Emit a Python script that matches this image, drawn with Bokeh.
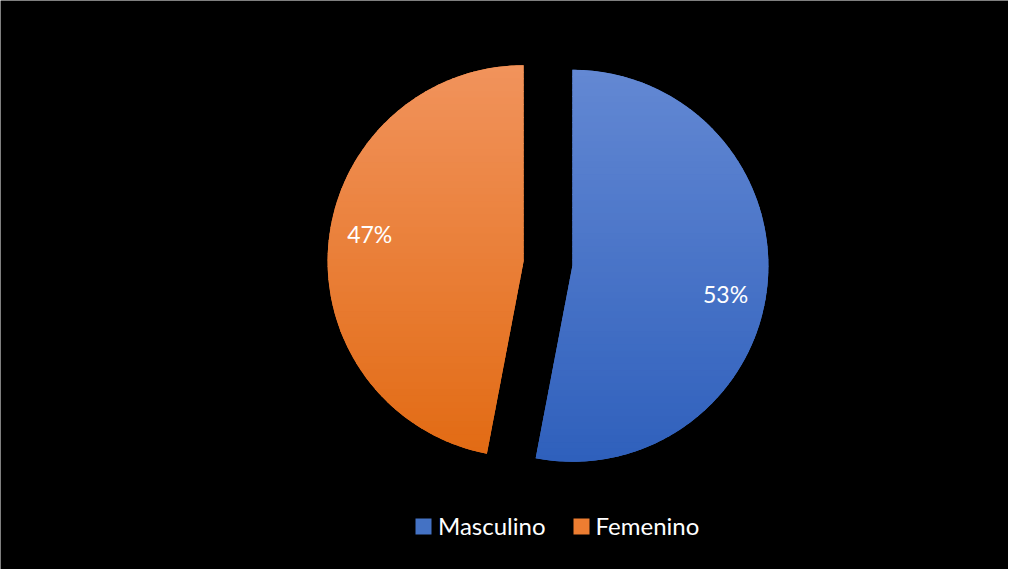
import numpy as np
from bokeh.plotting import figure
from bokeh.models import Range1d, Legend, LegendItem, ColumnDataSource
from bokeh.core.properties import value
from bokeh.embed import file_html
from bokeh.resources import INLINE

# ---- data ----
categories = ["Masculino", "Femenino"]
shares = [53, 47]
labels = ["53%", "47%"]
base_colors = ["#4472c4", "#ed7d31"]
top_colors = ["#6388d3", "#f1935c"]
bottom_colors = ["#2f60bc", "#e26b14"]

# ---- layout ----
W, H = 1008, 569
CX, CY = 547.5, 306.0     # pie centre (plot px, y up)
R = 196.0
EXPLODE = 24.5
FONT = "Lato"
FS_LEG = "24px"
FS_LAB = "23px"
label_dist = 156.0
label_turn = [-5.6, -4.0]  # deg offset from bisector for label placement

p = figure(width=W, height=H, output_backend="svg", toolbar_location=None,
           x_range=Range1d(0, W), y_range=Range1d(0, H),
           background_fill_color="black", border_fill_color="black",
           min_border=0, outline_line_color=None)
p.axis.visible = False
p.grid.visible = False


def hex2rgb(h):
    h = h.lstrip("#")
    return np.array([int(h[i:i + 2], 16) for i in (0, 2, 4)], dtype=float)


def rgb2hex(c):
    return "#%02x%02x%02x" % tuple(int(round(v)) for v in c)


def clip(poly, y, keep_above):
    out = []
    n = len(poly)
    for i in range(n):
        P = poly[i]
        Q = poly[(i + 1) % n]
        inP = P[1] >= y if keep_above else P[1] <= y
        inQ = Q[1] >= y if keep_above else Q[1] <= y
        if inQ:
            if not inP:
                t = (y - P[1]) / (Q[1] - P[1])
                out.append((P[0] + t * (Q[0] - P[0]), y))
            out.append(Q)
        elif inP:
            t = (y - P[1]) / (Q[1] - P[1])
            out.append((P[0] + t * (Q[0] - P[0]), y))
    return out


total = float(sum(shares))
start = 90.0  # degrees, slices run clockwise from 12 o'clock
items = []
label_x, label_y = [], []
for i, (cat, s) in enumerate(zip(categories, shares)):
    sweep = 360.0 * s / total
    a_end = start
    a_start = start - sweep
    mid = np.radians((a_start + a_end) / 2.0)
    cx = CX + EXPLODE * np.cos(mid)
    cy = CY + EXPLODE * np.sin(mid)

    src = ColumnDataSource(dict(x=[cx], y=[cy], r=[R],
                                sa=[np.radians(a_start)], ea=[np.radians(a_end)]))
    base = p.wedge(x="x", y="y", radius="r", start_angle="sa", end_angle="ea",
                   direction="anticlock", source=src,
                   fill_color=base_colors[i], line_color=None)
    items.append(LegendItem(label=cat, renderers=[base]))

    # gradient overlay (vertical, light at top to dark at bottom)
    th = np.radians(np.linspace(a_start, a_end, 240))
    poly = [(cx, cy)] + list(zip(cx + R * np.cos(th), cy + R * np.sin(th)))
    ys_all = [pt[1] for pt in poly]
    top, bot = max(ys_all), min(ys_all)
    c0, c1 = hex2rgb(top_colors[i]), hex2rgb(bottom_colors[i])
    n = 60
    edges = np.linspace(top, bot, n + 1)
    xs_l, ys_l, cols = [], [], []
    for k in range(n):
        y_hi = edges[k]
        y_lo = edges[k + 1] - 1.0 if k < n - 1 else edges[k + 1]
        piece = clip(clip(poly, y_hi, False), y_lo, True)
        if len(piece) < 3:
            continue
        t = (k + 0.5) / n
        xs_l.append([q[0] for q in piece])
        ys_l.append([q[1] for q in piece])
        cols.append(rgb2hex(c0 + (c1 - c0) * t))
    p.patches(xs=xs_l, ys=ys_l, fill_color=cols, line_color=None)

    la = mid + np.radians(label_turn[i])
    label_x.append(cx + label_dist * np.cos(la))
    label_y.append(cy + label_dist * np.sin(la) + 1.5)
    start = a_start

p.text(x=label_x, y=label_y, text=labels, text_color="white",
       text_font=value(FONT), text_font_size=FS_LAB,
       text_align="center", text_baseline="middle")

legend = Legend(items=items, orientation="horizontal", location=(413, 29),
                glyph_width=20, glyph_height=20, label_standoff=5, spacing=25,
                padding=0, margin=0, border_line_color=None,
                background_fill_alpha=0,
                label_text_font=FONT, label_text_font_size=FS_LEG,
                label_text_color="white")
p.add_layout(legend, "center")

open("out.html", "w").write(file_html(p, INLINE))
